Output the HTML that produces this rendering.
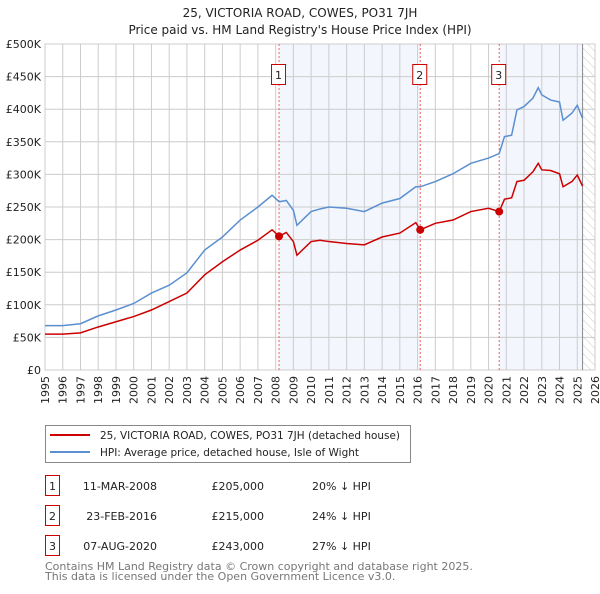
<!DOCTYPE html>
<html><head><meta charset="utf-8"><style>
body{margin:0;background:#fff;width:600px;height:590px;overflow:hidden;font-family:"DejaVu Sans","Liberation Sans",sans-serif}
</style></head><body>
<svg id="c" width="600" height="590" xmlns="http://www.w3.org/2000/svg" font-family="DejaVu Sans, Liberation Sans, sans-serif">
<defs><pattern id="hatch" width="6" height="6" patternUnits="userSpaceOnUse" patternTransform="rotate(-45)"><line x1="0" y1="0" x2="0" y2="6" stroke="#ccc" stroke-width="1"/></pattern></defs>
<text x="300" y="17" text-anchor="middle" font-size="12" fill="#222">25, VICTORIA ROAD, COWES, PO31 7JH</text>
<text x="300" y="34" text-anchor="middle" font-size="12" fill="#222">Price paid vs. HM Land Registry's House Price Index (HPI)</text>
<g id="plot"></g>
<g>
<rect x="45.5" y="425.5" width="365" height="37" fill="#fff" stroke="#888"/>
<line x1="50" y1="435" x2="90" y2="435" stroke="#cc0000" stroke-width="2"/>
<text x="100" y="439" font-size="10.5" textLength="300" lengthAdjust="spacingAndGlyphs" fill="#222">25, VICTORIA ROAD, COWES, PO31 7JH (detached house)</text>
<line x1="50" y1="452" x2="90" y2="452" stroke="#5b8fd0" stroke-width="2"/>
<text x="100" y="456" font-size="10.5" textLength="259" lengthAdjust="spacingAndGlyphs" fill="#222">HPI: Average price, detached house, Isle of Wight</text>
</g>
<g font-size="11" fill="#222">
<rect x="45.5" y="475.5" width="14" height="20" fill="none" stroke="#cc0000"/><text x="52.5" y="490" text-anchor="middle">1</text>
<text x="157" y="490" text-anchor="end">11-MAR-2008</text><text x="264" y="490" text-anchor="end">£205,000</text><text x="312" y="490">20% ↓ HPI</text>
<rect x="45.5" y="505.5" width="14" height="20" fill="none" stroke="#cc0000"/><text x="52.5" y="520" text-anchor="middle">2</text>
<text x="157" y="520" text-anchor="end">23-FEB-2016</text><text x="264" y="520" text-anchor="end">£215,000</text><text x="312" y="520">24% ↓ HPI</text>
<rect x="45.5" y="535.5" width="14" height="20" fill="none" stroke="#cc0000"/><text x="52.5" y="550" text-anchor="middle">3</text>
<text x="157" y="550" text-anchor="end">07-AUG-2020</text><text x="264" y="550" text-anchor="end">£243,000</text><text x="312" y="550">27% ↓ HPI</text>
</g>
<text x="45" y="570" font-size="11" fill="#777">Contains HM Land Registry data © Crown copyright and database right 2025.</text>
<text x="45" y="580" font-size="11" fill="#777">This data is licensed under the Open Government Licence v3.0.</text>
</svg>
<script>
const years=[1995,1996,1997,1998,1999,2000,2001,2002,2003,2004,2005,2006,2007,2007.8,2008.2,2008.6,2009,2009.2,2010,2010.5,2011,2012,2013,2014,2015,2015.9,2016.15,2017,2018,2019,2020,2020.6,2020.9,2021.3,2021.6,2022,2022.5,2022.8,2023,2023.5,2024,2024.2,2024.7,2025,2025.3];
const hpi=[68,68,71,83,92,102,118,130,149,184,204,230,250,268,258,260,245,222,243,247,250,248,243,256,263,281,281,289,301,317,325,332,358,360,399,404,417,433,422,414,411,383,394,406,386];
const price=[55,55,57,66,74,82,92,105,118,146,166,184,199,215,205,211,197,176,197,199,197,194,192,204,210,226,215,225,230,243,248,243,262,264,289,291,304,317,307,306,301,281,289,299,282];
const saleYears=[2008.19,2016.15,2020.6];
const salePrices=[205,215,243];
const saleLabels=["1","2","3"];
const yTicks=[0,50,100,150,200,250,300,350,400,450,500];
const yTickLabels=["£0","£50K","£100K","£150K","£200K","£250K","£300K","£350K","£400K","£450K","£500K"];
const xTicks=[1995,1996,1997,1998,1999,2000,2001,2002,2003,2004,2005,2006,2007,2008,2009,2010,2011,2012,2013,2014,2015,2016,2017,2018,2019,2020,2021,2022,2023,2024,2025,2026];
const L=45,R=595,T=44,B=370;
const X=y=>L+(y-1995)/31*(R-L);
const Y=v=>B-v/500*(B-T);
const g=document.getElementById('plot');
const NS='http://www.w3.org/2000/svg';
function mk(t,a){const e=document.createElementNS(NS,t);for(const k in a)e.setAttribute(k,a[k]);g.appendChild(e);return e;}
let e;
e=mk('rect',{x:X(saleYears[0]),y:T,width:X(saleYears[1])-X(saleYears[0]),height:B-T,fill:'#f3f6fd'});


e=mk('rect',{x:X(saleYears[2]),y:T,width:X(2025.3)-X(saleYears[2]),height:B-T,fill:'#f3f6fd'});


e=mk('rect',{x:X(2025.3),y:T,width:R-X(2025.3),height:B-T,fill:'url(#hatch)'});


yTicks.forEach((v,i)=>{
 e=mk('line',{x1:L,x2:R,y1:Y(v),y2:Y(v),stroke:'#ccc'});
 
 
 e=mk('text',{x:L-4,y:Y(v)+4,'text-anchor':'end','font-size':11,fill:'#222'});e.textContent=yTickLabels[i];
 
 
});
xTicks.forEach(y=>{
 e=mk('line',{x1:X(y),x2:X(y),y1:T,y2:B,stroke:'#ccc'});
 
 
 e=mk('text',{x:X(y)+4,y:B+6,'text-anchor':'end','font-size':11,fill:'#222',transform:`rotate(-90 ${X(y)+4} ${B+6})`});e.textContent=y;
 
 
});
e=mk('rect',{x:L,y:T,width:R-L,height:B-T,fill:'none',stroke:'#ccc'});


e=mk('line',{x1:X(2025.3),x2:X(2025.3),y1:T,y2:B,stroke:'#888'});


saleYears.forEach((s,i)=>{
 e=mk('line',{x1:X(s),x2:X(s),y1:T,y2:B,stroke:'#f06060','stroke-dasharray':'2,2'});
 
 
});
e=mk('polyline',{points:years.map((y,i)=>X(y)+','+Y(hpi[i])).join(' '),fill:'none',stroke:'#5b8fd0','stroke-width':1.5});


e=mk('polyline',{points:years.map((y,i)=>X(y)+','+Y(price[i])).join(' '),fill:'none',stroke:'#cc0000','stroke-width':1.5});


saleYears.forEach((s,i)=>{
 e=mk('circle',{cx:X(s),cy:Y(salePrices[i]),r:4,fill:'#cc0000'});
 
 
 e=mk('rect',{x:X(s)-7.5,y:64.5,width:14,height:20,fill:'#fff',stroke:'#cc0000'});
 
 
 e=mk('text',{x:X(s)-0.5,y:79,'text-anchor':'middle','font-size':11,fill:'#222'});e.textContent=saleLabels[i];
 
 
});
</script>
</body></html>
